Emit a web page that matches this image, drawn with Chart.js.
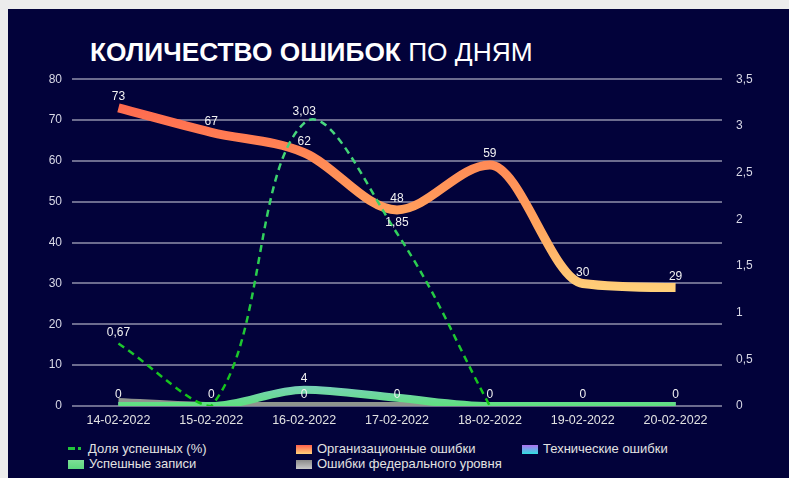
<!DOCTYPE html>
<html>
<head>
<meta charset="utf-8">
<script src="https://cdn.jsdelivr.net/npm/chart.js@4"></script>
<style>
  html { background: #ececec; }
  body { margin: 0; background: #ececec; width: 789px; height: 478px; overflow: hidden; position: relative;
         font-family: "Liberation Sans", Arial, sans-serif; }
  #panel { position: absolute; left: 8px; top: 9px; width: 781px; height: 469px; background: #02023a; }
  #title { position: absolute; left: 82px; top: 28px; color: #fff; font-size: 26.3px; white-space: nowrap; }
  #title b { font-weight: bold; }
  #wrap { position: absolute; left: 0; top: 49px; width: 781px; height: 374px; }
  .item { position: absolute; color: #e2e2e2; font-size: 13px; white-space: nowrap; line-height: 15px; }
  .sw { display: inline-block; width: 16px; height: 9px; margin-right: 5px; vertical-align: -1px; }
</style>
</head>
<body>
<div id="panel">
  <div id="title"><b>КОЛИЧЕСТВО ОШИБОК</b> ПО ДНЯМ</div>
  <div id="wrap"><canvas id="chart"></canvas></div>
</div>
<script>
const days = ["14-02-2022", "15-02-2022", "16-02-2022", "17-02-2022", "18-02-2022", "19-02-2022", "20-02-2022"];

const seriesNames = ["Доля успешных (%)", "Организационные ошибки", "Технические ошибки",
                     "Успешные записи", "Ошибки федерального уровня"];

const shareOk = [0.67, 0, 3.03, 1.85, 0, null, null];
const orgErrors = [73, 67, 62, 48, 59, 30, 29];
const techErrors = [0, 0, 0, 0, 0, 0, 0];
const okRecords = [0, 0, 4, 2, 0, 0, 0];
const fedErrors = [1, 0, 0, 0, 0, 0, 0];

const leftTicks = [0, 10, 20, 30, 40, 50, 60, 70, 80];
const rightTicks = [0, 0.5, 1, 1.5, 2, 2.5, 3, 3.5];

const fnt = '"Liberation Sans", Arial, sans-serif';

function comma(v) {
  return String(v).replace('.', ',');
}

// vertical gradient across the chart area
function vGrad(stops) {
  return function (c) {
    const area = c.chart.chartArea;
    if (!area) return stops[0][1];
    const g = c.chart.ctx.createLinearGradient(0, area.top, 0, area.bottom);
    stops.forEach(s => g.addColorStop(s[0], s[1]));
    return g;
  };
}

// value labels above points, skipping ones that would overlap
const valueLabels = {
  id: 'valueLabels',
  afterDatasetsDraw(chart) {
    const ctx = chart.ctx;
    const boxes = [];
    ctx.save();
    ctx.font = '12px ' + fnt;
    ctx.fillStyle = '#f2f2f2';
    ctx.textAlign = 'center';
    ctx.textBaseline = 'middle';
    chart.data.datasets.forEach((ds, i) => {
      const meta = chart.getDatasetMeta(i);
      meta.data.forEach((pt, j) => {
        const v = ds.data[j];
        if (v === null || v === undefined) return;
        const txt = comma(v);
        const w = ctx.measureText(txt).width;
        const x = pt.x, y = pt.y - 11;
        const box = { l: x - w / 2, r: x + w / 2, t: y - 6, b: y + 6 };
        if (boxes.some(b => box.l < b.r && box.r > b.l && box.t < b.b && box.b > b.t)) return;
        boxes.push(box);
        ctx.fillText(txt, x, y);
      });
    });
    ctx.restore();
  }
};

const ctx = document.getElementById('chart').getContext('2d');

new Chart(ctx, {
  type: 'line',
  data: {
    labels: days,
    datasets: [{
      label: seriesNames[0],
      data: shareOk,
      yAxisID: 'y1',
      borderColor: vGrad([[0, '#52d98e'], [0.5, '#2fcf5a'], [1, '#12c214']]),
      borderWidth: 2.5,
      borderDash: [7, 5],
      order: 0
    }, {
      label: seriesNames[1],
      data: orgErrors,
      yAxisID: 'y',
      borderColor: vGrad([[0, '#ff5a4c'], [0.25, '#ff8a56'], [0.45, '#ffa45e'], [0.65, '#ffd07a'], [1, '#ffe08a']]),
      borderWidth: 9,
      cubicInterpolationMode: 'monotone',
      order: 1
    }, {
      label: seriesNames[2],
      data: techErrors,
      yAxisID: 'y',
      borderColor: '#40d0e0',
      borderWidth: 8,
      order: 4
    }, {
      label: seriesNames[3],
      data: okRecords,
      yAxisID: 'y',
      borderColor: vGrad([[0, '#8ad0d0'], [0.93, '#7ccfc0'], [1, '#5fe07e']]),
      borderWidth: 8,
      cubicInterpolationMode: 'monotone',
      order: 2
    }, {
      label: seriesNames[4],
      data: fedErrors,
      yAxisID: 'y',
      borderColor: '#8e948e',
      borderWidth: 8,
      cubicInterpolationMode: 'monotone',
      order: 3
    }]
  },
  options: {
    responsive: true,
    maintainAspectRatio: false,
    animation: false,
    layout: { padding: { left: 0, right: 0, top: 6, bottom: 0 } },
    elements: {
      point: { radius: 0, hoverRadius: 0 },
      line: { tension: 0.4, borderCapStyle: 'butt' }
    },
    datasets: { line: { clip: 0, spanGaps: false } },
    plugins: {
      legend: { display: false },
      tooltip: { enabled: false }
    },
    scales: {
      x: {
        offset: true,
        grid: { display: false, drawTicks: false },
        border: { display: false },
        ticks: { color: '#e2e2e2', font: { family: fnt, size: 12.5 }, padding: 7, maxRotation: 0 },
        afterFit(s) { s.height = 26; }
      },
      y: {
        position: 'left',
        min: 0, max: 80,
        afterBuildTicks(s) { s.ticks = leftTicks.map(v => ({ value: v })); },
        grid: { color: '#6c6c8e', lineWidth: 2, drawTicks: false },
        border: { display: false },
        ticks: { color: '#d8d8e6', font: { family: fnt, size: 12 }, padding: 10 },
        afterFit(s) { s.width = 64; }
      },
      y1: {
        position: 'right',
        min: 0, max: 3.5,
        afterBuildTicks(s) { s.ticks = rightTicks.map(v => ({ value: v })); },
        grid: { display: false, drawTicks: false },
        border: { display: false },
        ticks: { color: '#d8d8e6', font: { family: fnt, size: 12 }, padding: 14, callback: v => comma(v) },
        afterFit(s) { s.width = 67; }
      }
    }
  },
  plugins: [valueLabels]
});

// legend laid out in a 3-column grid like the original
const swatches = [
  'dash',
  'linear-gradient(#ff5f4c, #ffd27a)',
  'linear-gradient(#b070f0, #30e0e0)',
  'linear-gradient(#7ddf96, #5cd87e)',
  'linear-gradient(#8a8a8a, #c8c8c8)'
];
const slots = [[60, 432], [288, 432], [514, 432], [60, 447], [288, 447]];
const panel = document.getElementById('panel');
seriesNames.forEach((name, k) => {
  const d = document.createElement('div');
  d.className = 'item';
  d.style.left = slots[k][0] + 'px';
  d.style.top = slots[k][1] + 'px';
  const sw = document.createElement('span');
  sw.className = 'sw';
  if (swatches[k] === 'dash') {
    sw.style.width = '13px';
    sw.style.height = '3px';
    sw.style.marginRight = '7px';
    sw.style.verticalAlign = '3px';
    sw.style.background = 'linear-gradient(to right, #22c43c 0 7px, transparent 7px 10px, #22c43c 10px 13px)';
  } else {
    sw.style.background = swatches[k];
  }
  d.appendChild(sw);
  d.appendChild(document.createTextNode(name));
  panel.appendChild(d);
});
</script>
</body>
</html>
